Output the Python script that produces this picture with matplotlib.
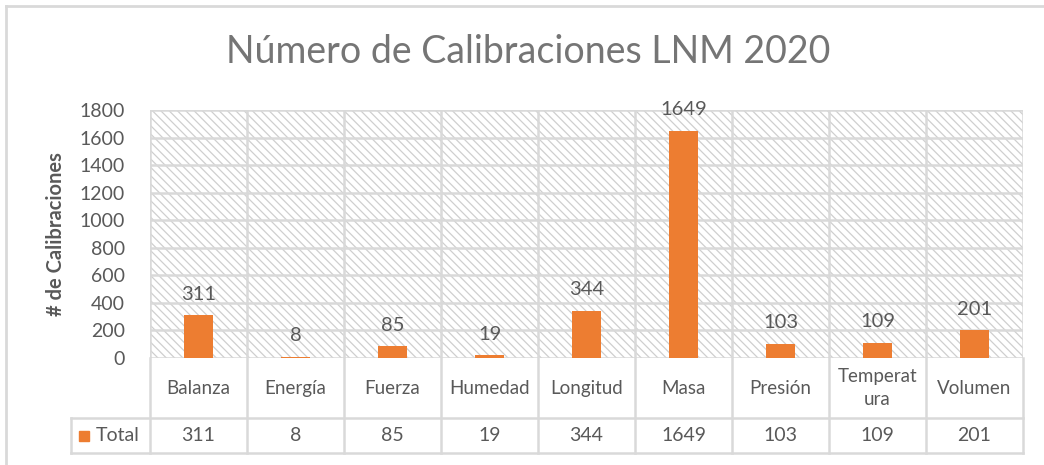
import matplotlib
matplotlib.use("Agg")
import matplotlib.pyplot as plt
from matplotlib.patches import Rectangle
from matplotlib.lines import Line2D

plt.rcParams['font.family'] = ['Lato', 'DejaVu Sans']
plt.rcParams['hatch.linewidth'] = 0.9
plt.rcParams['hatch.color'] = '#cfcfcf'

categorias = ['Balanza', 'Energía', 'Fuerza', 'Humedad', 'Longitud',
              'Masa', 'Presión', 'Temperat\nura', 'Volumen']
totales = [311, 8, 85, 19, 344, 1649, 103, 109, 201]

naranja = '#ed7d31'
gris_txt = '#595959'
gris_lin = '#d9d9d9'

fig = plt.figure(figsize=(10.44, 4.65), dpi=100)
ax = fig.add_axes([150/1044, 107/465, 873/1044, 248/465])

# ======= Fondo rayado ======= #
ax.add_patch(Rectangle((0, 0), 1, 1, transform=ax.transAxes, facecolor='white',
                       edgecolor='#cfcfcf', hatch='\\\\\\\\', linewidth=0, zorder=0))

x = list(range(len(categorias)))
ax.bar(x, totales, width=0.30, color=naranja, zorder=3)
for xi, v in zip(x, totales):
    ax.annotate(str(v), (xi, v), xytext=(0, 9), textcoords='offset points',
                ha='center', va='bottom', fontsize=14.5, color=gris_txt, zorder=4)

ax.set_xlim(-0.5, len(categorias) - 0.5)
ax.set_ylim(0, 1800)
ax.set_yticks(range(0, 1801, 200))
ax.set_xticks([])
ax.tick_params(axis='y', length=0, pad=18, labelsize=14, labelcolor=gris_txt)
for s in ax.spines.values():
    s.set_visible(False)

# grid
for yv in range(0, 1801, 200):
    ax.axhline(yv, color=gris_lin, linewidth=1.8, zorder=1)
for k in range(len(categorias) + 1):
    ax.axvline(k - 0.5, color=gris_lin, linewidth=1.8, zorder=1)

ax.set_ylabel('# de Calibraciones', fontsize=14.5, fontweight='bold',
              color=gris_txt, labelpad=10)

# ======= Tabla de datos ======= #
tr = ax.get_xaxis_transform()
y_h = -60/248
y_v = -95/248
x_leg = -0.5 - 79/97.0
x_max = len(categorias) - 0.5
kw = dict(color=gris_lin, linewidth=1.8, transform=tr, clip_on=False, zorder=1)
ax.add_line(Line2D([x_leg, x_max], [y_h, y_h], **kw))
ax.add_line(Line2D([x_leg, x_max], [y_v, y_v], **kw))
ax.add_line(Line2D([x_leg, x_leg], [y_h, y_v], **kw))
for k in range(len(categorias) + 1):
    ax.add_line(Line2D([k - 0.5, k - 0.5], [0, y_v], **kw))

for xi, c, v in zip(x, categorias, totales):
    ax.text(xi, y_h/2, c, transform=tr, ha='center', va='center',
            fontsize=13.5, color=gris_txt, linespacing=1.45)
    ax.text(xi, (y_h + y_v)/2, str(v), transform=tr, ha='center', va='center',
            fontsize=14, color=gris_txt)

ax.plot([-0.5 - 66/97.0], [(y_h + y_v)/2], marker='s', markersize=7,
        color=naranja, transform=tr, clip_on=False, linestyle='none')
ax.text(-0.5 - 54/97.0, (y_h + y_v)/2, 'Total', transform=tr, ha='left',
        va='center', fontsize=14, color=gris_txt)

# ======= Titulo y borde ======= #
fig.text(528/1044, 1 - 52/465, 'Número de Calibraciones LNM 2020',
         ha='center', va='center', fontsize=27, color='#757575')

fig.add_artist(Line2D([6/1044, 1], [1 - 6/465, 1 - 6/465], color=gris_lin,
                      linewidth=2, transform=fig.transFigure))
fig.add_artist(Line2D([6/1044, 6/1044], [0, 1 - 6/465], color=gris_lin,
                      linewidth=2, transform=fig.transFigure))

fig.savefig('out.png', dpi=100)
